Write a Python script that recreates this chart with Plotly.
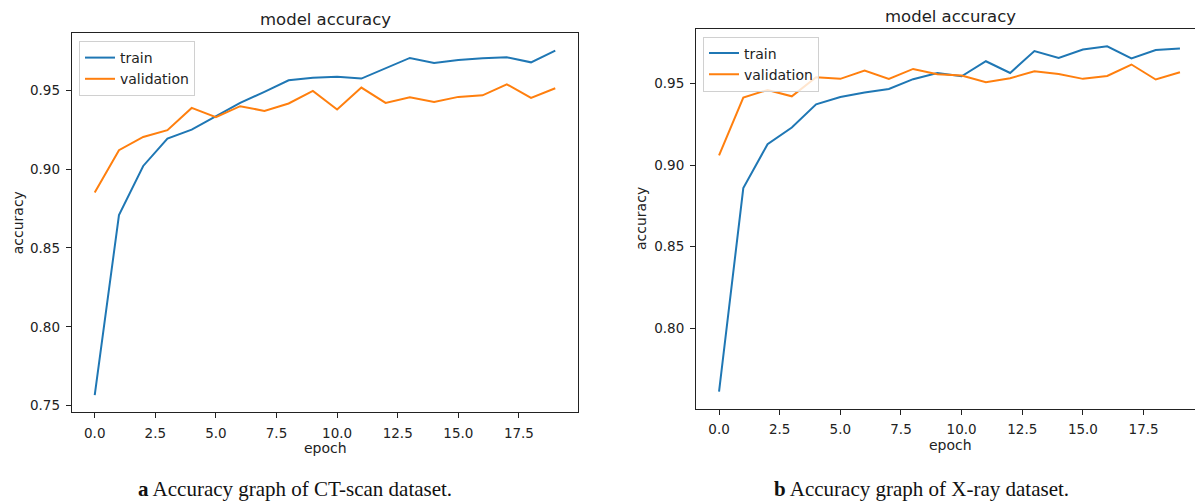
import plotly.graph_objects as go

epochs = list(range(20))

ct_train = [0.7567, 0.8708, 0.9020, 0.9194, 0.9250, 0.9335, 0.9420, 0.9490, 0.9563, 0.9580,
            0.9585, 0.9574, 0.9637, 0.9705, 0.9673, 0.9692, 0.9703, 0.9709, 0.9677, 0.9752]
ct_val = [0.8852, 0.9120, 0.9204, 0.9247, 0.9388, 0.9330, 0.9399, 0.9369, 0.9416, 0.9496,
          0.9378, 0.9517, 0.9420, 0.9456, 0.9426, 0.9458, 0.9468, 0.9538, 0.9451, 0.9513]

xr_train = [0.7610, 0.8860, 0.9129, 0.9231, 0.9374, 0.9419, 0.9446, 0.9468, 0.9528, 0.9566,
            0.9546, 0.9638, 0.9566, 0.9701, 0.9658, 0.9710, 0.9730, 0.9656, 0.9707, 0.9716]
xr_val = [0.9061, 0.9415, 0.9462, 0.9423, 0.9540, 0.9530, 0.9581, 0.9530, 0.9591, 0.9558,
          0.9550, 0.9509, 0.9534, 0.9577, 0.9560, 0.9530, 0.9548, 0.9618, 0.9526, 0.9571]

series_names = ["train", "validation"]
colors = ["#1f77b4", "#ff7f0e"]
titles = ["model accuracy", "model accuracy"]
captions = ["<b>a</b> Accuracy graph of CT-scan dataset.", "<b>b</b> Accuracy graph of X-ray dataset."]

# the page body adds an 8px margin; size the figure to fill the rest of the window
OFF = 8
W, H = 1203 - OFF, 502 - OFF


def px(x):
    return min(1.0, max(0.0, (x - OFF) / W))


def py(y):
    return min(1.0, max(0.0, 1 - (y - OFF) / H))


def padded(vals, m=0.05):
    lo, hi = min(vals), max(vals)
    s = hi - lo
    return [lo - m * s, hi + m * s]


fig = go.Figure()

panels = [
    dict(train=ct_train, val=ct_val, xa="x", ya="y", legend="legend",
         dom_x=[px(71.7), px(578.3)], dom_y=[py(412.3), py(33.3)]),
    dict(train=xr_train, val=xr_val, xa="x2", ya="y2", legend="legend2",
         dom_x=[px(696), px(1204)], dom_y=[py(409), py(29)]),
]

for p in panels:
    for name, vals, col in zip(series_names, [p["train"], p["val"]], colors):
        fig.add_trace(go.Scatter(x=epochs, y=vals, mode="lines", name=name,
                                 line=dict(color=col, width=2),
                                 xaxis=p["xa"], yaxis=p["ya"], legend=p["legend"]))

axis_common = dict(showgrid=False, zeroline=False, showline=True, linecolor="#222",
                   linewidth=1, ticks="outside", ticklen=5, tickcolor="#222", tickwidth=1,
                   tickfont=dict(family="DejaVu Sans", size=13.5, color="#222"),
                   ticklabelstandoff=3)

xrange_ = padded(epochs)

fig.update_layout(
    xaxis=dict(domain=panels[0]["dom_x"], anchor="y", range=xrange_, tick0=0, dtick=2.5,
               tickformat=".1f", mirror=True, **axis_common),
    yaxis=dict(domain=panels[0]["dom_y"], anchor="x", range=padded(ct_train + ct_val),
               tick0=0, dtick=0.05, tickformat=".2f", mirror=True, **axis_common),
    xaxis2=dict(domain=panels[1]["dom_x"], anchor="y2", range=xrange_, tick0=0, dtick=2.5,
                tickformat=".1f", mirror=True, **axis_common),
    yaxis2=dict(domain=panels[1]["dom_y"], anchor="x2", range=padded(xr_train + xr_val),
                tick0=0, dtick=0.05, tickformat=".2f", mirror=False, **axis_common),
    width=W, height=H,
    margin=dict(l=0, r=0, t=0, b=0),
    paper_bgcolor="white", plot_bgcolor="white",
    showlegend=True,
    legend=dict(x=px(79), y=py(41), xanchor="left", yanchor="top",
                bgcolor="rgba(255,255,255,0.8)", bordercolor="#d0d0d0", borderwidth=1,
                font=dict(family="DejaVu Sans", size=14, color="#222"),
                tracegroupgap=0, itemwidth=30),
    legend2=dict(x=px(703), y=py(36.5), xanchor="left", yanchor="top",
                 bgcolor="rgba(255,255,255,0.8)", bordercolor="#d0d0d0", borderwidth=1,
                 font=dict(family="DejaVu Sans", size=14, color="#222"),
                 tracegroupgap=0, itemwidth=30),
)

ann = []
# titles
ann.append(dict(text=titles[0], x=px(325), y=py(19), xref="paper", yref="paper",
                showarrow=False, xanchor="center", yanchor="middle",
                font=dict(family="DejaVu Sans", size=16.5, color="#222")))
ann.append(dict(text=titles[1], x=px(950), y=py(16.5), xref="paper", yref="paper",
                showarrow=False, xanchor="center", yanchor="middle",
                font=dict(family="DejaVu Sans", size=16.5, color="#222")))
# axis labels
for xc, yc in [(17.5, 222.8), (641, 219)]:
    ann.append(dict(text="accuracy", x=px(xc), y=py(yc), xref="paper", yref="paper",
                    showarrow=False, xanchor="center", yanchor="middle", textangle=-90,
                    font=dict(family="DejaVu Sans", size=14, color="#222")))
for xc, yc in [(325, 447.5), (950, 445)]:
    ann.append(dict(text="epoch", x=px(xc), y=py(yc), xref="paper", yref="paper",
                    showarrow=False, xanchor="center", yanchor="middle",
                    font=dict(family="DejaVu Sans", size=14, color="#222")))
# captions
for txt, xc in zip(captions, [295, 921]):
    ann.append(dict(text=txt, x=px(xc), y=py(489), xref="paper", yref="paper",
                    showarrow=False, xanchor="center", yanchor="middle",
                    font=dict(family="Liberation Serif", size=21, color="#111")))
fig.update_layout(annotations=ann)

fig.write_html("out.html")
